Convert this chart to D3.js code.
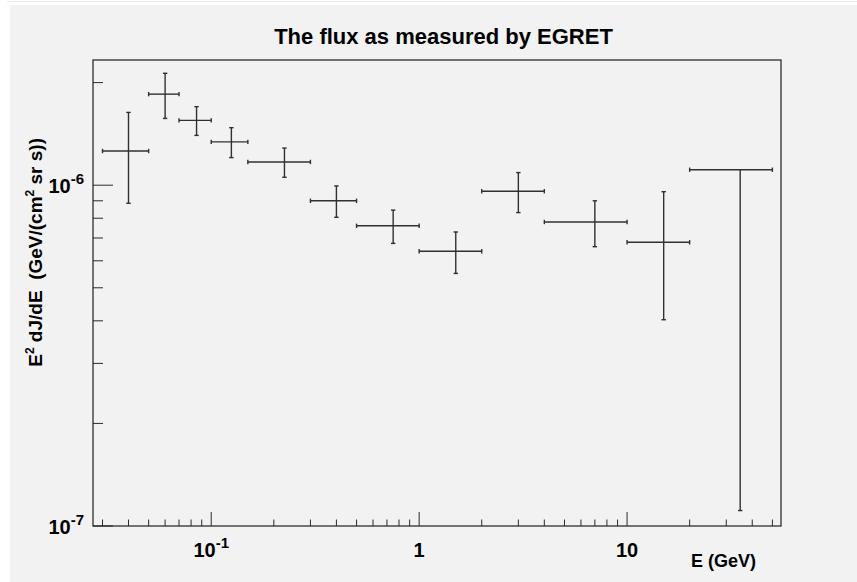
<!DOCTYPE html>
<html>
<head>
<meta charset="utf-8">
<script src="https://cdn.jsdelivr.net/npm/d3@7"></script>
<style>
  html, body { margin: 0; padding: 0; background: #ffffff; }
  svg { display: block; }
  text { font-family: "Liberation Sans", Arial, Helvetica, sans-serif; font-weight: bold; fill: #000; }
</style>
</head>
<body>
<svg id="chart" width="857" height="582"></svg>
<script>
// ---- data ----
const titleText = "The flux as measured by EGRET";
const energy   = [0.04, 0.06, 0.085, 0.125, 0.225, 0.4, 0.75, 1.5, 3, 7, 15, 35];          // GeV, bin centre
const energyLo = [0.03, 0.05, 0.07, 0.10, 0.15, 0.3, 0.5, 1, 2, 4, 10, 20];               // GeV, bin lower edge
const energyHi = [0.05, 0.07, 0.10, 0.15, 0.30, 0.5, 1.0, 2, 4, 10, 20, 50];              // GeV, bin upper edge
const flux     = [1.26e-6, 1.85e-6, 1.55e-6, 1.34e-6, 1.17e-6, 9.0e-7, 7.6e-7, 6.4e-7, 9.6e-7, 7.8e-7, 6.8e-7, 1.11e-6];
const fluxErrLo = [3.75e-7, 2.8e-7, 1.5e-7, 1.35e-7, 1.15e-7, 9.5e-8, 8.5e-8, 8.9e-8, 1.29e-7, 1.2e-7, 2.77e-7, 9.99e-7];
const fluxErrHi = [3.75e-7, 2.8e-7, 1.5e-7, 1.35e-7, 1.15e-7, 9.5e-8, 8.5e-8, 8.9e-8, 1.29e-7, 1.2e-7, 2.77e-7, 0];
const xMajorTicks = [0.1, 1, 10];
const xMajorLabels = [["10", "-1"], ["1", ""], ["10", ""]];
const yMajorTicks = [1e-7, 1e-6];
const yMajorLabels = [["10", "-7"], ["10", "-6"]];
const xDomain = [0.027, 55];
const yDomain = [1e-7, 2.33e-6];

// ---- layout ----
const W = 857, H = 582;
const frame = { left: 93, right: 781, top: 60, bottom: 526 };
const ink = "#2b2b2b";

const svg = d3.select("#chart");

// canvas background (ROOT-like grey pad)
svg.append("rect").attr("x", 0).attr("y", 0).attr("width", W).attr("height", H).attr("fill", "#ffffff");
svg.append("line").attr("x1", 7).attr("x2", W).attr("y1", 1.5).attr("y2", 1.5).attr("stroke", "#ececec").attr("stroke-width", 1);
svg.append("rect").attr("x", 10).attr("y", 5).attr("width", W - 10).attr("height", H - 5).attr("fill", "#f2f2f2");

const x = d3.scaleLog().domain(xDomain).range([frame.left, frame.right]);
const y = d3.scaleLog().domain(yDomain).range([frame.bottom, frame.top]);

// minor ticks
function minorTicks(domain) {
  const out = [];
  const lo = Math.floor(Math.log10(domain[0])), hi = Math.ceil(Math.log10(domain[1]));
  for (let e = lo; e <= hi; e++) {
    for (let m = 2; m <= 9; m++) {
      const v = m * Math.pow(10, e);
      if (v > domain[0] && v < domain[1]) out.push(v);
    }
  }
  return out;
}

const axes = svg.append("g");

// x ticks (inside, pointing up)
axes.selectAll("line.xminor").data(minorTicks(xDomain)).join("line")
  .attr("x1", d => x(d)).attr("x2", d => x(d))
  .attr("y1", frame.bottom).attr("y2", frame.bottom - 6.5)
  .attr("stroke", ink).attr("stroke-width", 1);
axes.selectAll("line.xmajor").data(xMajorTicks).join("line")
  .attr("x1", d => x(d)).attr("x2", d => x(d))
  .attr("y1", frame.bottom).attr("y2", frame.bottom - 14)
  .attr("stroke", ink).attr("stroke-width", 1);

// y ticks (inside, pointing right)
axes.selectAll("line.yminor").data(minorTicks(yDomain)).join("line")
  .attr("x1", frame.left).attr("x2", frame.left + 10)
  .attr("y1", d => y(d)).attr("y2", d => y(d))
  .attr("stroke", ink).attr("stroke-width", 1);
axes.selectAll("line.ymajor").data(yMajorTicks).join("line")
  .attr("x1", frame.left).attr("x2", frame.left + 20)
  .attr("y1", d => y(d)).attr("y2", d => y(d))
  .attr("stroke", ink).attr("stroke-width", 1);

// frame
svg.append("rect")
  .attr("x", frame.left).attr("y", frame.top)
  .attr("width", frame.right - frame.left).attr("height", frame.bottom - frame.top)
  .attr("fill", "none").attr("stroke", "#1e1e1e").attr("stroke-width", 1.2);

// tick labels
const labelSize = 20, supSize = 15;
xMajorTicks.forEach((v, i) => {
  const t = svg.append("text")
    .attr("x", x(v)).attr("y", 557).attr("text-anchor", "middle")
    .style("font-size", labelSize + "px");
  t.append("tspan").text(xMajorLabels[i][0]);
  if (xMajorLabels[i][1]) t.append("tspan").attr("dy", -9).style("font-size", supSize + "px").text(xMajorLabels[i][1]);
});
yMajorTicks.forEach((v, i) => {
  const t = svg.append("text")
    .attr("x", 84).attr("y", y(v) + 7.5).attr("text-anchor", "end")
    .style("font-size", labelSize + "px");
  t.append("tspan").text(yMajorLabels[i][0]);
  if (yMajorLabels[i][1]) t.append("tspan").attr("dy", -9).style("font-size", supSize + "px").text(yMajorLabels[i][1]);
});

// title
svg.append("text").attr("x", 443.5).attr("y", 44).attr("text-anchor", "middle")
  .style("font-size", "22px").text(titleText);

// axis titles
svg.append("text").attr("x", 756).attr("y", 567).attr("text-anchor", "end")
  .style("font-size", "18px").text("E (GeV)");

const yt = svg.append("text")
  .attr("transform", "translate(42,138) rotate(-90)")
  .attr("text-anchor", "end")
  .attr("xml:space", "preserve")
  .style("font-size", "19px");
yt.append("tspan").text("E");
yt.append("tspan").attr("dy", -8).style("font-size", "12px").text("2");
yt.append("tspan").attr("dy", 8).text(" dJ/dE  (GeV/(cm");
yt.append("tspan").attr("dy", -8).style("font-size", "12px").text("2");
yt.append("tspan").attr("dy", 8).text(" sr s))");

// ---- error bars ----
const pts = energy.map((e, i) => ({
  e, lo: energyLo[i], hi: energyHi[i], f: flux[i], fl: flux[i] - fluxErrLo[i], fh: flux[i] + fluxErrHi[i],
  hasHi: fluxErrHi[i] > 0
}));
const g = svg.append("g").attr("stroke", "#303030").attr("stroke-width", 1.4).attr("fill", "none");
const cap = 2.2;
pts.forEach(p => {
  const cx = x(p.e), cy = y(p.f);
  // horizontal bar
  g.append("line").attr("x1", x(p.lo)).attr("x2", x(p.hi)).attr("y1", cy).attr("y2", cy);
  g.append("line").attr("x1", x(p.lo)).attr("x2", x(p.lo)).attr("y1", cy - cap).attr("y2", cy + cap);
  g.append("line").attr("x1", x(p.hi)).attr("x2", x(p.hi)).attr("y1", cy - cap).attr("y2", cy + cap);
  // vertical bar
  g.append("line").attr("x1", cx).attr("x2", cx).attr("y1", y(p.fh)).attr("y2", y(p.fl));
  g.append("line").attr("x1", cx - cap).attr("x2", cx + cap).attr("y1", y(p.fl)).attr("y2", y(p.fl));
  if (p.hasHi) g.append("line").attr("x1", cx - cap).attr("x2", cx + cap).attr("y1", y(p.fh)).attr("y2", y(p.fh));
});
</script>
</body>
</html>
